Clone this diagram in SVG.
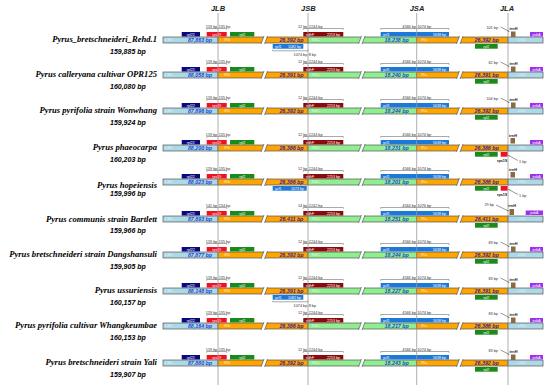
<svg xmlns="http://www.w3.org/2000/svg" xmlns:xlink="http://www.w3.org/1999/xlink" width="550" height="385" viewBox="0 0 550 385">
<style>
.nm{font-family:"Liberation Serif","Times New Roman",serif;font-weight:bold;font-style:italic;font-size:8.6px;fill:#000;text-anchor:end}
.sz{font-family:"Liberation Sans",Arial,sans-serif;font-weight:bold;font-style:italic;font-size:7px;fill:#000}
.hd{font-family:"Liberation Sans",Arial,sans-serif;font-weight:bold;font-style:italic;font-size:7.5px;fill:#222;text-anchor:middle}
.lsc{fill:#add8e6;stroke:#555;stroke-width:0.7}
.ir{fill:#ffa500;stroke:#555;stroke-width:0.7}
.ssc{fill:#90ee90;stroke:#555;stroke-width:0.7}
.brk{fill:#fff;stroke:none}
.brl{stroke:#444;stroke-width:0.6;fill:none}
.reg{font-family:"Liberation Sans",Arial,sans-serif;font-size:4px;fill:#fff;fill-opacity:0.75}
.num{font-family:"Liberation Sans",Arial,sans-serif;font-weight:bold;font-style:italic;font-size:5.3px;fill:#1e47d6;text-anchor:middle}
.numi{font-family:"Liberation Sans",Arial,sans-serif;font-weight:bold;font-style:italic;font-size:5.3px;fill:#3d1c8c;text-anchor:middle}
.g{font-family:"Liberation Sans",Arial,sans-serif;font-size:3.6px;fill:#fff}
.gc{font-family:"Liberation Sans",Arial,sans-serif;font-size:3.6px;fill:#fff;text-anchor:middle}
.ge{font-family:"Liberation Sans",Arial,sans-serif;font-size:3.6px;fill:#fff;text-anchor:end}
.ann{font-family:"Liberation Sans",Arial,sans-serif;font-size:3.8px;fill:#333}
.anne{font-family:"Liberation Sans",Arial,sans-serif;font-size:3.8px;fill:#333;text-anchor:end}
.gl{font-family:"Liberation Sans",Arial,sans-serif;font-size:3.8px;font-weight:bold;fill:#111;text-anchor:middle}
.br{fill:none;stroke:#555;stroke-width:0.5}
.jl{stroke:#9a9a9a;stroke-width:0.8}
.rpl22{fill:#0a0a80}.rps19{fill:#f01020}.rpl2{fill:#1a8a1a}.ndhF{fill:#8b0a0a}.ycf1{fill:#1e78d8}.trnH{fill:#8b6a40}.psbA{fill:#a030f0}
.cn{stroke:#333;stroke-width:0.5;fill:none;marker-end:url(#ah)}
</style>
<defs>
<marker id="ah" viewBox="0 0 4 4" refX="4" refY="2" markerWidth="2.5" markerHeight="2.5" orient="auto"><path d="M0,0L4,2L0,4z" fill="#333"/></marker>
<g id="bar">
<rect class="lsc" x="163" y="0" width="55" height="6"/>
<rect class="ir" x="218" y="0" width="90" height="6"/>
<rect class="ssc" x="308" y="0" width="108.7" height="6"/>
<rect class="ir" x="416.7" y="0" width="91.3" height="6"/>
<rect class="lsc" x="508" y="0" width="35" height="6"/>
<polygon class="brk" points="261,7 264,-1 267.5,-1 264.5,7"/><path class="brl" d="M261,7L264,-1M264.5,7L267.5,-1"/>
<polygon class="brk" points="358.5,7 361.5,-1 365,-1 362,7"/><path class="brl" d="M358.5,7L361.5,-1M362,7L365,-1"/>
<polygon class="brk" points="456.5,7 459.5,-1 463,-1 460,7"/><path class="brl" d="M456.5,7L459.5,-1M460,7L463,-1"/>
<text class="reg" x="165" y="4.4">LSC</text>
<text class="reg" x="224" y="4.4">IRb</text>
<text class="reg" x="311.5" y="4.4">SSC</text>
<text class="reg" x="421" y="4.4">IRa</text>
<text class="reg" x="518" y="4.4">LSC</text>
</g>
<g id="genes">
<rect class="rpl22" x="181.7" y="-5" width="18.3" height="4.5"/><text class="gc" x="190.8" y="-1.5">rpl22</text>
<rect class="rps19" x="206.7" y="-5" width="20" height="4.5"/><text class="gc" x="216.7" y="-1.5">rps19</text>
<rect class="rpl2" x="230" y="-5" width="24.3" height="4.5"/><text class="gc" x="242.2" y="-1.5">rpl2</text>
<rect class="ndhF" x="303.3" y="-5" width="40" height="4.5"/><text class="g" x="306" y="-1.5">ndhF</text><text class="ge" x="340" y="-1.5">2253 bp</text>
<rect class="ycf1" x="380.7" y="-5" width="68.3" height="4.5"/><text class="g" x="383" y="-1.5">ycf1</text><text class="ge" x="446" y="-1.5">5638 bp</text>
<rect class="rpl2" x="475" y="7" width="22.7" height="4.7"/><text class="gc" x="486.3" y="10.6">rpl2</text>
<path class="br" d="M206.7,-7.2V-8.5H226.7V-7.2"/>
<path class="br" d="M303.3,-7.2V-8.5H343.3V-7.2"/>
<path class="br" d="M380.7,-7.2V-8.5H449V-7.2"/>
</g>
<g id="trnH"><rect class="trnH" x="511" y="-5.5" width="4.5" height="5.5"/><text class="gl" x="513.5" y="-7">trnH</text></g>
<g id="trnH2"><rect class="trnH" x="510.5" y="-7" width="4.5" height="5.5"/><text class="gl" x="513" y="-8.5">trnH</text></g>
<g id="psbA"><rect class="psbA" x="530" y="-5" width="13" height="4.5"/><text class="gc" x="536.5" y="-1.5">psbA</text></g>
<g id="ycf1b"><rect class="ycf1" x="272.7" y="7" width="30.6" height="4.7"/><text class="g" x="275" y="10.6">ycf1</text></g>
<g id="rps19b"><rect class="rps19" x="500.7" y="7" width="7" height="4.7"/><text class="gl" x="502" y="16.5">rps19</text><text class="ann" x="519" y="18">1 bp</text></g>
</defs>

<g id="headers">
<text class="hd" x="218" y="10.5">JLB</text>
<text class="hd" x="308.3" y="10.5">JSB</text>
<text class="hd" x="417" y="10.5">JSA</text>
<text class="hd" x="507" y="10.5">JLA</text>
</g>

<g id="row1" transform="translate(0,37)">
<text class="nm" x="157" y="5">Pyrus_bretschneideri_Rehd.1</text>
<text class="sz" x="110" y="17">159,885 bp</text>
<use xlink:href="#bar"/><use xlink:href="#genes"/><use xlink:href="#trnH"/><use xlink:href="#psbA"/><use xlink:href="#ycf1b"/>
<text class="ge" x="301" y="10.6">1082 bp</text>
<path class="br" d="M272.7,12.5V13.8H308V12.5"/>
<text class="anne" x="307.3" y="19">1074 bp</text><text class="ann" x="308.7" y="19">8 bp</text>
<text class="num" x="200" y="4.7">87,863 bp</text><text class="numi" x="291.5" y="4.7">26,392 bp</text><text class="num" x="396.7" y="4.7">18,238 bp</text><text class="numi" x="486.7" y="4.7">26,392 bp</text>
<text class="anne" x="217.4" y="-9.3">159 bp</text><text class="ann" x="218.7" y="-9.3">135 bp</text>
<text class="anne" x="307.4" y="-9.3">12 bp</text><text class="ann" x="308.8" y="-9.3">2244 bp</text>
<text class="anne" x="416" y="-9.3">4566 bp</text><text class="ann" x="417.5" y="-9.3">1074 bp</text>
<text class="anne" x="498" y="-8">101 bp</text>
</g>

<g id="row2" transform="translate(0,72)">
<text class="nm" x="157" y="5">Pyrus calleryana cultivar OPR125</text>
<text class="sz" x="110" y="17">160,080 bp</text>
<use xlink:href="#bar"/><use xlink:href="#genes"/><use xlink:href="#trnH"/><use xlink:href="#psbA"/>
<text class="num" x="200" y="4.7">88,058 bp</text><text class="numi" x="291.5" y="4.7">26,391 bp</text><text class="num" x="396.7" y="4.7">18,240 bp</text><text class="numi" x="486.7" y="4.7">26,391 bp</text>
<text class="anne" x="217.4" y="-9.3">159 bp</text><text class="ann" x="218.7" y="-9.3">135 bp</text>
<text class="anne" x="307.4" y="-9.3">12 bp</text><text class="ann" x="308.8" y="-9.3">2244 bp</text>
<text class="anne" x="416" y="-9.3">4566 bp</text><text class="ann" x="417.5" y="-9.3">1074 bp</text>
<text class="anne" x="498" y="-8">62 bp</text>
</g>

<g id="row3" transform="translate(0,108)">
<text class="nm" x="157" y="5">Pyrus pyrifolia strain Wonwhang</text>
<text class="sz" x="110" y="17">159,924 bp</text>
<use xlink:href="#bar"/><use xlink:href="#genes"/><use xlink:href="#trnH"/><use xlink:href="#psbA"/>
<text class="num" x="200" y="4.7">87,896 bp</text><text class="numi" x="291.5" y="4.7">26,392 bp</text><text class="num" x="396.7" y="4.7">18,244 bp</text><text class="numi" x="486.7" y="4.7">26,392 bp</text>
<text class="anne" x="217.4" y="-9.3">159 bp</text><text class="ann" x="218.7" y="-9.3">135 bp</text>
<text class="anne" x="307.4" y="-9.3">12 bp</text><text class="ann" x="308.8" y="-9.3">2244 bp</text>
<text class="anne" x="416" y="-9.3">4566 bp</text><text class="ann" x="417.5" y="-9.3">1074 bp</text>
<text class="anne" x="498" y="-8">104 bp</text>
</g>

<g id="row4" transform="translate(0,145)">
<text class="nm" x="157" y="5">Pyrus phaeocarpa</text>
<text class="sz" x="110" y="17">160,203 bp</text>
<use xlink:href="#bar"/><use xlink:href="#genes"/><use xlink:href="#trnH2"/><use xlink:href="#psbA"/><use xlink:href="#rps19b"/>
<text class="num" x="200" y="4.7">88,200 bp</text><text class="numi" x="291.5" y="4.7">26,386 bp</text><text class="num" x="396.7" y="4.7">18,231 bp</text><text class="numi" x="486.7" y="4.7">26,386 bp</text>
<text class="anne" x="217.4" y="-9.3">159 bp</text><text class="ann" x="218.7" y="-9.3">135 bp</text>
<text class="anne" x="307.4" y="-9.3">12 bp</text><text class="ann" x="308.8" y="-9.3">2244 bp</text>
<text class="anne" x="416" y="-9.3">4566 bp</text><text class="ann" x="417.5" y="-9.3">1074 bp</text>
</g>

<g id="row5" transform="translate(0,179)">
<text class="nm" x="157" y="9.3">Pyrus hopeiensis</text>
<text class="sz" x="110" y="17">159,996 bp</text>
<use xlink:href="#bar"/><use xlink:href="#genes"/><use xlink:href="#trnH2"/><use xlink:href="#psbA"/><use xlink:href="#rps19b"/>
<rect class="ycf1" x="272.7" y="7" width="34" height="4.7"/><text class="g" x="275" y="10.6">ycf1</text><text class="ge" x="304" y="10.6">1073 bp</text>
<text class="num" x="200" y="4.7">88,023 bp</text><text class="numi" x="291.5" y="4.7">26,386 bp</text><text class="num" x="396.7" y="4.7">18,201 bp</text><text class="numi" x="486.7" y="4.7">26,386 bp</text>
<text class="anne" x="217.4" y="-9.3">159 bp</text><text class="ann" x="218.7" y="-9.3">135 bp</text>
<text class="anne" x="307.4" y="-9.3">12 bp</text><text class="ann" x="308.8" y="-9.3">2244 bp</text>
<text class="anne" x="416" y="-9.3">4566 bp</text><text class="ann" x="417.5" y="-9.3">1074 bp</text>
</g>

<g id="row6" transform="translate(0,216)">
<text class="nm" x="157" y="5.5">Pyrus communis strain Bartlett</text>
<text class="sz" x="110" y="17">159,966 bp</text>
<use xlink:href="#bar"/><use xlink:href="#genes"/>
<rect class="trnH" x="509.5" y="-7" width="4.5" height="6"/><text class="gl" x="512" y="-9.5">trnH</text>
<rect class="psbA" x="525.7" y="-5.5" width="17.3" height="4.5"/><text class="gc" x="534.3" y="-2">psbA</text>
<text class="num" x="200" y="4.7">87,893 bp</text><text class="numi" x="291.5" y="4.7">26,411 bp</text><text class="num" x="396.7" y="4.7">18,251 bp</text><text class="numi" x="486.7" y="4.7">26,411 bp</text>
<text class="anne" x="217.4" y="-9.3">141 bp</text><text class="ann" x="218.7" y="-9.3">134 bp</text>
<text class="anne" x="307.4" y="-9.3">14 bp</text><text class="ann" x="308.8" y="-9.3">2242 bp</text>
<text class="anne" x="416" y="-9.3">4564 bp</text><text class="ann" x="417.5" y="-9.3">1076 bp</text>
<text class="anne" x="494" y="-10.5">29 bp</text>
</g>

<g id="row7" transform="translate(0,252)">
<text class="nm" x="157" y="5">Pyrus bretschneideri strain Dangshansuli</text>
<text class="sz" x="110" y="17">159,905 bp</text>
<use xlink:href="#bar"/><use xlink:href="#genes"/><use xlink:href="#trnH"/><use xlink:href="#psbA"/>
<text class="num" x="200" y="4.7">87,877 bp</text><text class="numi" x="291.5" y="4.7">26,392 bp</text><text class="num" x="396.7" y="4.7">18,244 bp</text><text class="numi" x="486.7" y="4.7">26,392 bp</text>
<text class="anne" x="217.4" y="-9.3">159 bp</text><text class="ann" x="218.7" y="-9.3">135 bp</text>
<text class="anne" x="307.4" y="-9.3">12 bp</text><text class="ann" x="308.8" y="-9.3">2244 bp</text>
<text class="anne" x="416" y="-9.3">4566 bp</text><text class="ann" x="417.5" y="-9.3">1074 bp</text>
<text class="anne" x="498" y="-8">83 bp</text>
</g>

<g id="row8" transform="translate(0,288)">
<text class="nm" x="157" y="5">Pyrus ussuriensis</text>
<text class="sz" x="110" y="17">160,157 bp</text>
<use xlink:href="#bar"/><use xlink:href="#genes"/><use xlink:href="#trnH"/><use xlink:href="#psbA"/><use xlink:href="#ycf1b"/>
<text class="ge" x="301" y="10.6">1082 bp</text>
<path class="br" d="M272.7,12.5V13.8H308V12.5"/>
<text class="anne" x="307.3" y="19">1074 bp</text><text class="ann" x="308.7" y="19">8 bp</text>
<text class="num" x="200" y="4.7">88,148 bp</text><text class="numi" x="291.5" y="4.7">26,391 bp</text><text class="num" x="396.7" y="4.7">18,227 bp</text><text class="numi" x="486.7" y="4.7">26,391 bp</text>
<text class="anne" x="217.4" y="-9.3">159 bp</text><text class="ann" x="218.7" y="-9.3">135 bp</text>
<text class="anne" x="307.4" y="-9.3">12 bp</text><text class="ann" x="308.8" y="-9.3">2244 bp</text>
<text class="anne" x="416" y="-9.3">4566 bp</text><text class="ann" x="417.5" y="-9.3">1074 bp</text>
<text class="anne" x="498" y="-8">83 bp</text>
</g>

<g id="row9" transform="translate(0,323)">
<text class="nm" x="157" y="5">Pyrus pyrifolia cultivar Whangkeumbae</text>
<text class="sz" x="110" y="17">160,153 bp</text>
<use xlink:href="#bar"/><use xlink:href="#genes"/><use xlink:href="#trnH"/><use xlink:href="#psbA"/>
<text class="num" x="200" y="4.7">88,164 bp</text><text class="numi" x="291.5" y="4.7">26,386 bp</text><text class="num" x="396.7" y="4.7">18,217 bp</text><text class="numi" x="486.7" y="4.7">26,386 bp</text>
<text class="anne" x="217.4" y="-9.3">159 bp</text><text class="ann" x="218.7" y="-9.3">135 bp</text>
<text class="anne" x="307.4" y="-9.3">12 bp</text><text class="ann" x="308.8" y="-9.3">2244 bp</text>
<text class="anne" x="416" y="-9.3">4566 bp</text><text class="ann" x="417.5" y="-9.3">1074 bp</text>
<text class="anne" x="498" y="-8">83 bp</text>
</g>

<g id="row10" transform="translate(0,360)">
<text class="nm" x="157" y="5">Pyrus bretschneideri strain Yali</text>
<text class="sz" x="110" y="17">159,907 bp</text>
<use xlink:href="#bar"/><use xlink:href="#genes"/><use xlink:href="#trnH"/><use xlink:href="#psbA"/>
<text class="num" x="200" y="4.7">87,880 bp</text><text class="numi" x="291.5" y="4.7">26,392 bp</text><text class="num" x="396.7" y="4.7">18,243 bp</text><text class="numi" x="486.7" y="4.7">26,392 bp</text>
<text class="anne" x="217.4" y="-9.3">159 bp</text><text class="ann" x="218.7" y="-9.3">135 bp</text>
<text class="anne" x="307.4" y="-9.3">12 bp</text><text class="ann" x="308.8" y="-9.3">2244 bp</text>
<text class="anne" x="416" y="-9.3">4566 bp</text><text class="ann" x="417.5" y="-9.3">1074 bp</text>
<text class="anne" x="498" y="-8">83 bp</text>
</g>

<g id="junctions">
<line class="jl" x1="218" y1="13" x2="218" y2="385"/>
<line class="jl" x1="308" y1="13" x2="308" y2="385"/>
<line class="jl" x1="416.7" y1="13" x2="416.7" y2="385"/>
<line class="jl" x1="508" y1="13" x2="508" y2="385"/>
</g>

<g id="connectors">
<path class="cn" d="M500.5,27L509.5,31.5"/>
<path class="cn" d="M500.5,62L509.5,66.5"/>
<path class="cn" d="M500.5,98L509.5,102.5"/>
<path class="cn" d="M518,160.5L508.5,155.5"/>
<path class="cn" d="M518,194.5L508.5,189.5"/>
<path class="cn" d="M496,205L508.5,211"/>
<path class="cn" d="M500.5,242L509.5,246.5"/>
<path class="cn" d="M500.5,278L509.5,282.5"/>
<path class="cn" d="M500.5,313L509.5,317.5"/>
<path class="cn" d="M500.5,350L509.5,354.5"/>
</g>
</svg>
